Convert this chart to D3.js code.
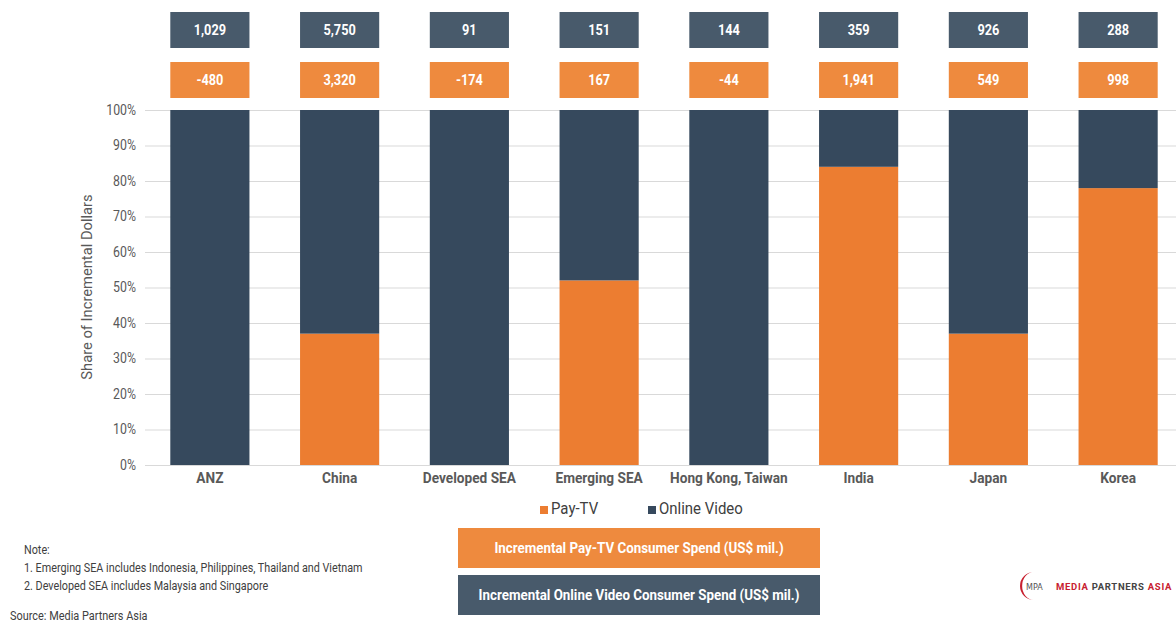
<!DOCTYPE html>
<html>
<head>
<meta charset="utf-8">
<script src="https://cdn.jsdelivr.net/npm/d3@7"></script>
<style>
  body { margin: 0; background: #fff; }
  svg { display: block; }
  text { font-family: Roboto, "DejaVu Sans", sans-serif; }
</style>
</head>
<body>
<script>
// Data:
const regions = ["ANZ", "China", "Developed SEA", "Emerging SEA", "Hong Kong, Taiwan", "India", "Japan", "Korea"];
const payTvShare = [0, 37, 0, 52, 0, 84, 37, 78];
const onlineShare = [100, 63, 100, 48, 100, 16, 63, 22];
const payTvSpend = [-480, 3320, -174, 167, -44, 1941, 549, 998];
const onlineSpend = [1029, 5750, 91, 151, 144, 359, 926, 288];
const yTicks = [0, 10, 20, 30, 40, 50, 60, 70, 80, 90, 100];
const seriesNames = ["Pay-TV", "Online Video"];

// Colours:
const orange = "#ec7d31";
const navy = "#36495d";
const boxOrange = "#ee8a3e";
const boxNavy = "#485a6b";

const width = 1176;
const height = 623;

const svg = d3.select("body")
  .append("svg")
  .attr("width", width)
  .attr("height", height);

// squeeze text horizontally, the source uses a condensed face
function condense(sel, k) {
  sel.each(function () {
    const len = this.getComputedTextLength();
    d3.select(this)
      .attr("textLength", len * k)
      .attr("lengthAdjust", "spacingAndGlyphs");
  });
}

// Scales:
const x = d3.scaleBand()
  .domain(regions)
  .range([145, 1183])
  .paddingInner(0.39)
  .paddingOuter(0.195);

const y = d3.scaleLinear()
  .domain([0, 100])
  .range([465, 110]);

// Gridlines:
svg.append("g")
  .selectAll("line")
  .data(yTicks)
  .join("line")
  .attr("x1", 145)
  .attr("x2", width)
  .attr("y1", (d) => y(d) + 0.5)
  .attr("y2", (d) => y(d) + 0.5)
  .attr("stroke", "#d9d9d9")
  .attr("stroke-width", 1);

// y-axis:
const yAxis = d3.axisLeft(y)
  .tickValues(yTicks)
  .tickFormat((d) => d + "%")
  .tickSize(0)
  .tickPadding(0);

svg.append("g")
  .attr("transform", "translate(136,0)")
  .call(yAxis)
  .call((g) => g.select(".domain").remove())
  .call((g) => g.selectAll("text")
    .attr("fill", "#595959")
    .style("font-size", "14px")
    .style("font-family", "Roboto, sans-serif")
    .call(condense, 0.88));

svg.append("text")
  .attr("transform", "translate(92,287) rotate(-90)")
  .attr("text-anchor", "middle")
  .attr("fill", "#595959")
  .style("font-size", "15px")
  .text("Share of Incremental Dollars")
  .call(condense, 0.98);

// Stacked bars:
const table = regions.map((r, i) => ({ region: r, pay: payTvShare[i], online: onlineShare[i] }));
const stack = d3.stack().keys(["pay", "online"])(table);
const colors = { pay: orange, online: navy };

svg.append("g")
  .selectAll("g")
  .data(stack)
  .join("g")
  .attr("fill", (s) => colors[s.key])
  .selectAll("rect")
  .data((s) => s)
  .join("rect")
  .attr("x", (d) => x(d.data.region))
  .attr("width", x.bandwidth())
  .attr("y", (d) => y(d[1]))
  .attr("height", (d) => y(d[0]) - y(d[1]));

// x-axis labels:
const xAxis = d3.axisBottom(x).tickSize(0).tickPadding(0);
svg.append("g")
  .attr("transform", "translate(0,472)")
  .call(xAxis)
  .call((g) => g.select(".domain").remove())
  .call((g) => g.selectAll("text")
    .attr("fill", "#595959")
    .style("font-size", "15px")
    .style("font-weight", "bold")
    .style("font-family", "Roboto, sans-serif")
    .call(condense, 0.91));

// Spend boxes above bars:
const fmt = d3.format(",");
function spendRow(values, top, fill) {
  const g = svg.append("g");
  g.selectAll("rect")
    .data(values)
    .join("rect")
    .attr("x", (d, i) => x(regions[i]))
    .attr("y", top)
    .attr("width", x.bandwidth())
    .attr("height", 36)
    .attr("fill", fill);
  g.selectAll("text")
    .data(values)
    .join("text")
    .attr("x", (d, i) => x(regions[i]) + x.bandwidth() / 2)
    .attr("y", top + 23)
    .attr("text-anchor", "middle")
    .attr("fill", "#fff")
    .style("font-size", "15px")
    .style("font-weight", "bold")
    .text((d) => fmt(d).replace("\u2212", "-"))
    .call(condense, 0.85);
}
spendRow(onlineSpend, 12, boxNavy);
spendRow(payTvSpend, 62, boxOrange);

// Legend:
const legend = svg.append("g").attr("transform", "translate(540,509)");
const legendX = [0, 108];
seriesNames.forEach((name, i) => {
  legend.append("rect")
    .attr("x", legendX[i])
    .attr("y", -3)
    .attr("width", 8)
    .attr("height", 8)
    .attr("fill", i === 0 ? orange : navy);
  legend.append("text")
    .attr("x", legendX[i] + 11)
    .attr("y", 5)
    .attr("fill", "#404040")
    .style("font-size", "17px")
    .text(name)
    .call(condense, 0.88);
});

// Explanation boxes:
const keyBoxes = [
  { label: "Incremental Pay-TV Consumer Spend (US$ mil.)", fill: boxOrange, top: 528 },
  { label: "Incremental Online Video Consumer Spend (US$ mil.)", fill: boxNavy, top: 575 }
];
keyBoxes.forEach((b) => {
  svg.append("rect")
    .attr("x", 458)
    .attr("y", b.top)
    .attr("width", 362)
    .attr("height", 40)
    .attr("fill", b.fill);
  svg.append("text")
    .attr("x", 639)
    .attr("y", b.top + 25)
    .attr("text-anchor", "middle")
    .attr("fill", "#fff")
    .style("font-size", "15px")
    .style("font-weight", "bold")
    .text(b.label)
    .call(condense, 0.89);
});

// Notes:
const notes = [
  "Note:",
  "1. Emerging SEA includes Indonesia, Philippines, Thailand and Vietnam",
  "2. Developed SEA includes Malaysia and Singapore"
];
svg.append("g")
  .selectAll("text")
  .data(notes)
  .join("text")
  .attr("x", 24)
  .attr("y", (d, i) => 554 + i * 18)
  .attr("fill", "#404040")
  .style("font-size", "13px")
  .text((d) => d)
  .call(condense, 0.83);

svg.append("text")
  .attr("x", 10)
  .attr("y", 620)
  .attr("fill", "#404040")
  .style("font-size", "13px")
  .text("Source: Media Partners Asia")
  .call(condense, 0.84);

// Logo:
const logo = svg.append("g").attr("transform", "translate(1020,572)");
logo.append("path")
  .attr("d", "M14,0 A14,14 0 1,0 14,28 A11,13 0 1,1 14,0 Z")
  .attr("fill", "#c8202f");
logo.append("text")
  .attr("x", 6)
  .attr("y", 18)
  .attr("fill", "#555")
  .style("font-size", "8px")
  .style("font-family", "'DejaVu Sans', sans-serif")
  .text("MPA");
const logoText = logo.append("text")
  .attr("x", 36)
  .attr("y", 18)
  .style("font-size", "9.5px")
  .style("font-weight", "bold")
  .style("letter-spacing", "0.7px");
logoText.append("tspan").attr("fill", "#c8202f").text("MEDIA ");
logoText.append("tspan").attr("fill", "#444").text("PARTNERS ");
logoText.append("tspan").attr("fill", "#c8202f").text("ASIA");
</script>
</body>
</html>
